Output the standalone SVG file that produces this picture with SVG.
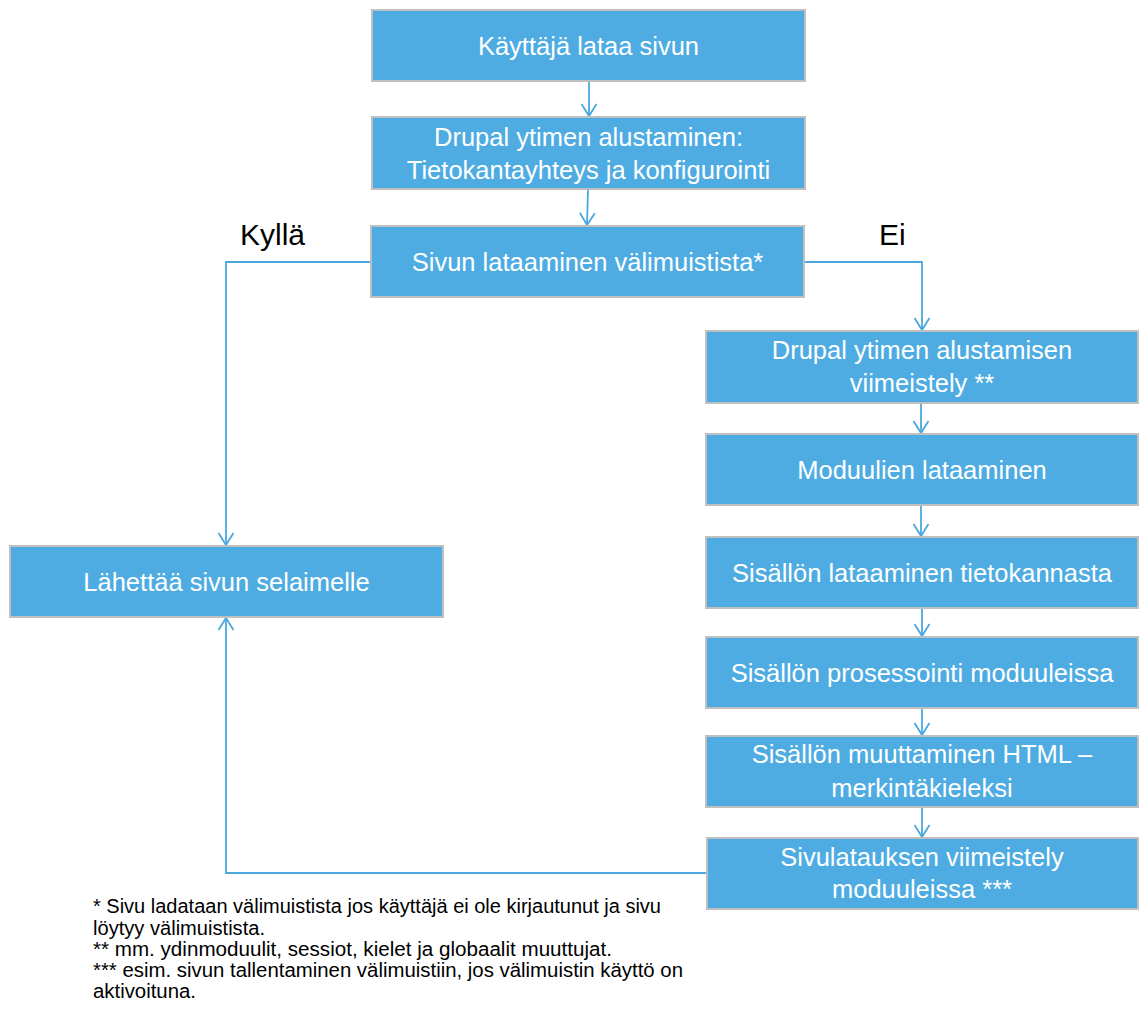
<svg xmlns="http://www.w3.org/2000/svg" width="1139" height="1019" viewBox="0 0 1139 1019">
<style>
.box{fill:#4EACE2;stroke:#BFBFBF;stroke-width:2}
.bt{font-family:"Liberation Sans",Arial,sans-serif;font-size:25.5px;fill:#FFFFFF;text-anchor:middle}
.lbl{font-family:"Liberation Sans",Arial,sans-serif;font-size:30px;fill:#000000}
.fn{font-family:"Liberation Sans",Arial,sans-serif;font-size:19.5px;fill:#000000}
.con{fill:none;stroke:#4BA8DF;stroke-width:1.8;marker-end:url(#arr)}
</style>
<defs>
<marker id="arr" markerUnits="userSpaceOnUse" viewBox="-9 -14 18 16" refX="0" refY="0" markerWidth="18" markerHeight="16" orient="auto-start-reverse" overflow="visible">
<path d="M-12,-7.5 L0,0 L-12,7.5" fill="none" stroke="#4BA8DF" stroke-width="1.8"/>
</marker>
</defs>
<rect width="1139" height="1019" fill="#FFFFFF"/>
<g id="connectors">
<path class="con" d="M589,81 L589,116"/>
<path class="con" d="M588,189 L587,225"/>
<path class="con" d="M371,262 L226,262 L226,545"/>
<path class="con" d="M805,262 L922,262 L922,330"/>
<path class="con" d="M921,403 L921,433"/>
<path class="con" d="M921,505 L921,536"/>
<path class="con" d="M922,608 L922,636"/>
<path class="con" d="M922,708 L922,735"/>
<path class="con" d="M922,807 L922,837"/>
<path class="con" d="M707,873 L226,873 L226,618"/>
</g>
<g id="n1"><rect class="box" x="372" y="10" width="433" height="71"/><text class="bt" x="588.5" y="54.5">Käyttäjä lataa sivun</text></g>
<g id="n2"><rect class="box" x="372" y="117" width="433" height="72"/><text class="bt" x="588.5" y="146">Drupal ytimen alustaminen:</text><text class="bt" x="588.5" y="179">Tietokantayhteys ja konfigurointi</text></g>
<g id="n3"><rect class="box" x="371" y="226" width="433" height="71"/><text class="bt" x="587.5" y="270.5">Sivun lataaminen välimuistista*</text></g>
<g id="n4"><rect class="box" x="10" y="546" width="433" height="71"/><text class="bt" x="226.5" y="590.5">Lähettää sivun selaimelle</text></g>
<g id="n5"><rect class="box" x="706" y="331" width="432" height="72"/><text class="bt" x="922" y="358.5">Drupal ytimen alustamisen</text><text class="bt" x="922" y="392">viimeistely **</text></g>
<g id="n6"><rect class="box" x="706" y="434" width="432" height="71"/><text class="bt" x="922" y="478.5">Moduulien lataaminen</text></g>
<g id="n7"><rect class="box" x="706" y="537" width="432" height="71"/><text class="bt" x="922" y="581.5">Sisällön lataaminen tietokannasta</text></g>
<g id="n8"><rect class="box" x="706" y="637" width="432" height="71"/><text class="bt" x="922" y="681.5">Sisällön prosessointi moduuleissa</text></g>
<g id="n9"><rect class="box" x="706" y="736" width="432" height="71"/><text class="bt" x="922" y="763">Sisällön muuttaminen HTML –</text><text class="bt" x="922" y="797">merkintäkieleksi</text></g>
<g id="n10"><rect class="box" x="707" y="838" width="431" height="71"/><text class="bt" x="922" y="866">Sivulatauksen viimeistely</text><text class="bt" x="922" y="898">moduuleissa ***</text></g>
<g id="labels">
<text class="lbl" x="240" y="245">Kyllä</text>
<text class="lbl" x="879" y="245">Ei</text>
</g>
<g id="footnotes">
<text class="fn" x="93" y="913" textLength="568" lengthAdjust="spacingAndGlyphs">* Sivu ladataan välimuistista jos käyttäjä ei ole kirjautunut ja sivu</text>
<text class="fn" x="93" y="935" textLength="172" lengthAdjust="spacingAndGlyphs">löytyy välimuistista.</text>
<text class="fn" x="93" y="956" textLength="519" lengthAdjust="spacingAndGlyphs">** mm. ydinmoduulit, sessiot, kielet ja globaalit muuttujat.</text>
<text class="fn" x="93" y="977" textLength="590" lengthAdjust="spacingAndGlyphs">*** esim. sivun tallentaminen välimuistiin, jos välimuistin käyttö on</text>
<text class="fn" x="93" y="998" textLength="103" lengthAdjust="spacingAndGlyphs">aktivoituna.</text>
</g>
</svg>
